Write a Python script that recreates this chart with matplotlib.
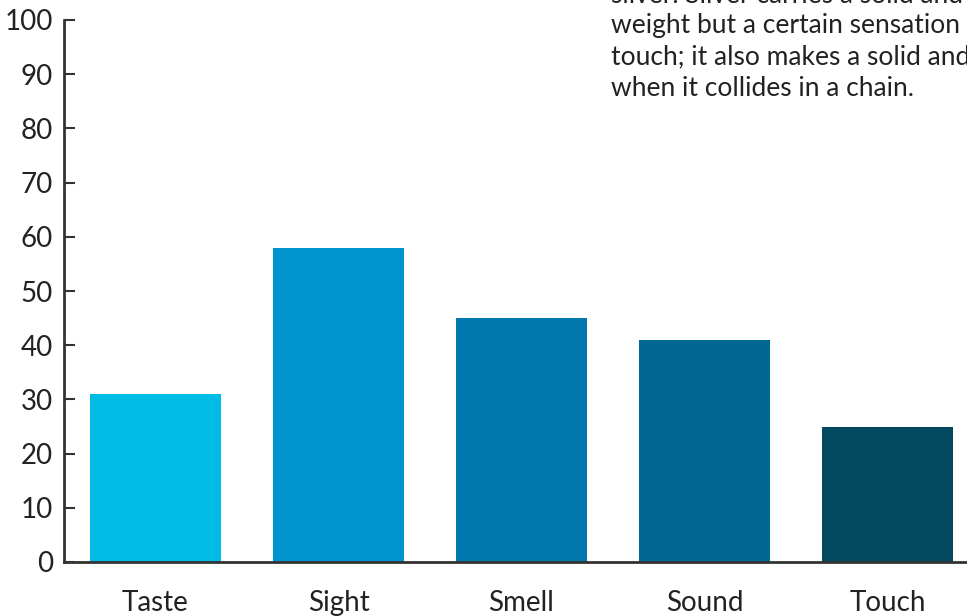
import matplotlib
matplotlib.use("Agg")
import matplotlib.pyplot as plt

categories = ["Taste", "Sight", "Smell", "Sound", "Touch"]
values = [31, 58, 45, 41, 25]
colors = ["#00BCE4", "#0093D0", "#0078AE", "#006893", "#02485F"]
y_ticks = [0, 10, 20, 30, 40, 50, 60, 70, 80, 90, 100]
note_lines = [
    "silver. Silver carries a solid and reassuring",
    "weight but a certain sensation of",
    "touch; it also makes a solid and soft sound",
    "when it collides in a chain.",
]

plt.rcParams["font.family"] = ["Lato", "DejaVu Sans"]

W, H = 967, 616
fig = plt.figure(figsize=(W / 100, H / 100), dpi=100)
left, bottom, top = 64 / W, (H - 562) / H, (H - 20) / H
ax = fig.add_axes([left, bottom, 915 / W, top - bottom])

x = range(len(categories))
ax.bar(x, values, width=0.72, color=colors, zorder=2)

ax.set_xlim(-0.5, len(categories) - 0.5)
ax.set_ylim(0, 100)
ax.set_yticks(y_ticks)
ax.set_yticklabels([str(t) for t in y_ticks], fontsize=20, color="#222222")
ax.set_xticks(list(x))
ax.set_xticklabels(categories, fontsize=20, color="#222222")

ax.tick_params(axis="y", direction="in", length=8, width=1.5, color="#333333", pad=8)
ax.tick_params(axis="x", length=0, pad=20)

for side in ("top", "right"):
    ax.spines[side].set_visible(False)
for side in ("left", "bottom"):
    ax.spines[side].set_color("#333333")
    ax.spines[side].set_linewidth(2)

for i, line in enumerate(note_lines):
    fig.text(611 / W, 1 - (-5 + 31 * i) / H, line, fontsize=19, color="#222222",
             ha="left", va="center")

fig.savefig("out.png", dpi=100)
